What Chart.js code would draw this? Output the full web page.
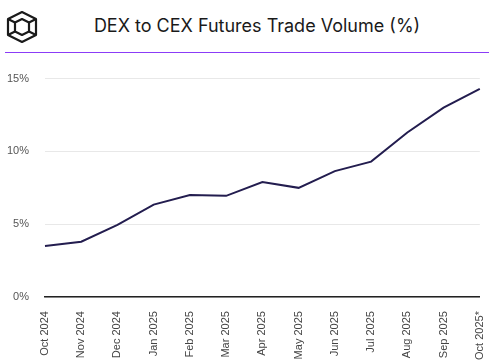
<!DOCTYPE html>
<html>
<head>
<meta charset="utf-8">
<script src="https://cdn.jsdelivr.net/npm/chart.js@4.4.0/dist/chart.umd.min.js"></script>
<style>
    html, body { margin: 0; padding: 0; background: #fff; }
    #wrap { position: relative; width: 499px; height: 360px; overflow: hidden; }
    #logo { position: absolute; left: 5px; top: 10px; }
    #title { position: absolute; left: 0; width: 514px; top: 15px; text-align: center;
             font-family: Inter, 'Noto Sans', sans-serif; font-size: 18px; color: #1a1a1a; }
    #rule { position: absolute; left: 5px; width: 484px; top: 52px; height: 1px; background: #8b3cf7; }
    #box { position: absolute; left: 0; top: 56px; width: 499px; height: 310px; }
</style>
</head>
<body>
<div id="wrap">
    <svg id="logo" width="34" height="34" viewBox="0 0 34 34">
        <g fill="none" stroke="#1a1a1a" stroke-width="2.2" stroke-linejoin="round">
            <polygon points="17,2 31,9 31,25 17,32 3,25 3,9"/>
            <polygon points="17,9 24,12.5 24,21.5 17,25 10,21.5 10,12.5"/>
            <line x1="3" y1="9" x2="10" y2="12.5"/>
            <line x1="31" y1="9" x2="24" y2="12.5"/>
            <line x1="3" y1="25" x2="10" y2="21.5"/>
            <line x1="31" y1="25" x2="24" y2="21.5"/>
        </g>
    </svg>
    <div id="title">DEX to CEX Futures Trade Volume (%)</div>
    <div id="rule"></div>
    <div id="box"><canvas id="chart"></canvas></div>
</div>
<script>
    // Datos
    const months = ['Oct 2024', 'Nov 2024', 'Dec 2024', 'Jan 2025', 'Feb 2025', 'Mar 2025', 'Apr 2025',
                    'May 2025', 'Jun 2025', 'Jul 2025', 'Aug 2025', 'Sep 2025', 'Oct 2025*'];
    const dexShare = [3.5, 3.8, 4.95, 6.35, 7.0, 6.95, 7.9, 7.5, 8.65, 9.3, 11.3, 13.0, 14.3];
    const yTicks = [0, 5, 10, 15];

    Chart.defaults.font.family = "'Liberation Sans', Arial, sans-serif";
    Chart.defaults.font.size = 11;

    const ctx = document.getElementById('chart').getContext('2d');
    new Chart(ctx, {
        type: 'line',
        data: {
            labels: months,
            datasets: [{
                label: 'DEX / CEX',
                data: dexShare,
                borderColor: '#231d4f',
                borderWidth: 2,
                pointRadius: 0,
                tension: 0,
                fill: false
            }]
        },
        options: {
            responsive: true,
            maintainAspectRatio: false,
            animation: false,
            plugins: {
                legend: { display: false },
                tooltip: { enabled: false }
            },
            layout: {
                padding: { top: 4, bottom: 0, left: 0, right: 8 }
            },
            scales: {
                x: {
                    offset: false,
                    grid: { display: false },
                    border: { display: true, color: '#222', width: 1.5 },
                    ticks: {
                        color: '#444',
                        maxRotation: 90,
                        minRotation: 90,
                        autoSkip: false,
                        padding: 6
                    }
                },
                y: {
                    min: 0,
                    max: 15,
                    afterBuildTicks: (axis) => { axis.ticks = yTicks.map(v => ({ value: v })); },
                    afterFit: (axis) => { axis.width = 45; },
                    grid: { color: '#e8e8e8', drawTicks: false },
                    border: { display: false },
                    ticks: {
                        color: '#555',
                        padding: 16,
                        callback: (v) => v + '%'
                    }
                }
            }
        }
    });
</script>
</body>
</html>
